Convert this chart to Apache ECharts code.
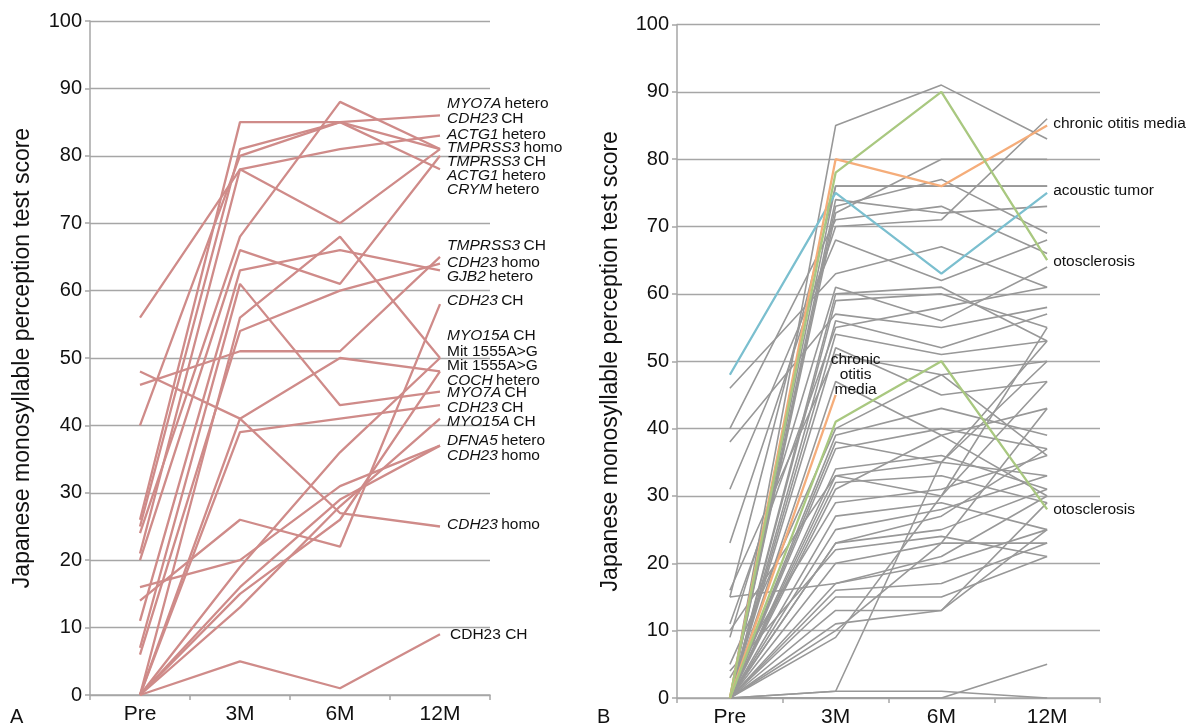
<!DOCTYPE html>
<html><head><meta charset="utf-8">
<script src="https://cdn.jsdelivr.net/npm/echarts@6/dist/echarts.min.js"></script>
<style>html,body{margin:0;padding:0;background:#fff}#c{width:1200px;height:728px}</style>
</head><body><div id="c"></div>
<script>
// ---------- categories ----------
const timepoints = ['Pre', '3M', '6M', '12M'];
const yTitle = 'Japanese monosyllable perception test score';

// ---------- Panel A (genetic causes), one entry per patient ----------
const aPre = [26, 25, 40, 56, 21, 24, 20, 11, 6, 46, 14, 0, 0, 0, 0, 7, 0, 0, 16, 0, 48, 0];
const a3M  = [85, 81, 80, 78, 78, 68, 66, 63, 54, 51, 26, 56, 19, 41, 15, 61, 39, 13, 20, 16, 41, 5];
const a6M  = [85, 85, 85, 81, 70, 88, 61, 66, 60, 51, 22, 68, 36, 50, 26, 43, 41, 28, 31, 29, 27, 1];
const a12M = [86, 81, 78, 83, 81, 81, 80, 63, 64, 65, 58, 50, 50, 48, 48, 45, 43, 41, 37, 37, 25, 9];

// labels at 12M (italic gene part + normal part) and their anchor score
const aLabelGene = ['MYO7A', 'CDH23', 'ACTG1', 'TMPRSS3', 'TMPRSS3', 'ACTG1', 'CRYM', 'TMPRSS3', 'CDH23', 'GJB2', 'CDH23', 'MYO15A', '', '', 'COCH', 'MYO7A', 'CDH23', 'MYO15A', 'DFNA5', 'CDH23', 'CDH23', ''];
const aLabelRest = ['hetero', 'CH', 'hetero', 'homo', 'CH', 'hetero', 'hetero', 'CH', 'homo', 'hetero', 'CH', 'CH', 'Mit 1555A>G', 'Mit 1555A>G', 'hetero', 'CH', 'CH', 'CH', 'hetero', 'homo', 'homo', 'CDH23 CH'];
const aLabelAt   = [87.7, 85.5, 83.2, 81.2, 79.1, 77.0, 74.9, 66.6, 64.2, 62.0, 58.5, 53.3, 51.0, 48.8, 46.7, 44.8, 42.6, 40.5, 37.7, 35.5, 25.2, 8.9];

// ---------- Panel B (other causes), grey patients ----------
const bPre = [0, 15, 0, 0, 0, 0, 40, 23, 31, 46, 9, 0, 0, 38, 0, 11, 0, 0, 16, 0, 5, 0, 0, 0, 0, 10, 0, 0, 0, 3, 0, 0, 0, 0, 4, 0, 0, 15, 0, 0, 0, 0, 0, 0, 0, 0, 0];
const b3M  = [85, 76, 76, 74, 73, 72, 71, 70, 68, 63, 61, 60, 59, 57, 56, 55, 54, 52, 51, 47, 40, 39, 38, 37, 34, 33, 33, 32, 31, 29, 27, 25, 23, 23, 22, 20, 17, 17, 16, 15, 13, 11, 10, 9, 1, 1, 0];
const b6M  = [91, 76, 76, 72, 77, 80, 73, 71, 62, 67, 56, 61, 60, 55, 52, 58, 51, 45, 48, 39, 48, 43, 35, 40, 36, 35, 30, 33, 39, 31, 29, 28, 27, 25, 24, 23, 21, 20, 17, 15, 13, 13, 23, 30, 1, 35, 0];
const b12M = [83, 76, 76, 73, 69, 80, 66, 86, 68, 61, 64, 53, 55, 58, 57, 61, 53, 47, 50, 43, 36, 39, 53, 37, 31, 33, 47, 29, 30, 36, 25, 33, 37, 31, 21, 23, 30, 25, 23, 21, 29, 25, 43, 55, 0, 50, 5];

// highlighted patients (blue, orange, green, orange, green)
const cPre  = [48, 0, 0, 0, 0];
const c3M   = [75, 80, 78, 45, 41];
const c6M   = [63, 76, 90, null, 50];
const c12M  = [75, 85, 65, null, 28];
const cColor = ['#7bbfcf', '#f5ad7a', '#a9c880', '#f5ad7a', '#a9c880'];

const bLabelText = ['chronic otitis media', 'acoustic tumor', 'otosclerosis', 'otosclerosis'];
const bLabelAt   = [85.3, 75.3, 64.8, 27.9];
const bInnerText = 'chronic\notitis\nmedia';
const bInnerAt   = 48;

// ---------- build ----------
const FONT = 'Liberation Sans, Arial, sans-serif';
const GRID = '#a6a6a6';
const TXT = '#111111';

function xAxis(gi) {
  return {
    type: 'category', gridIndex: gi, data: timepoints,
    axisLine: { lineStyle: { color: GRID, width: 1.5 } },
    axisTick: { show: true, length: 5, lineStyle: { color: GRID, width: 1.5 } },
    axisLabel: { color: TXT, fontSize: 21, fontFamily: FONT, margin: 9 },
    splitLine: { show: false }
  };
}
function yAxis(gi, gap) {
  return {
    type: 'value', gridIndex: gi, min: 0, max: 100, interval: 10,
    name: yTitle, nameLocation: 'middle', nameRotate: 90, nameGap: gap,
    nameTextStyle: { color: TXT, fontSize: 23, fontFamily: FONT },
    axisLine: { show: true, lineStyle: { color: GRID, width: 1.5 } },
    axisTick: { show: true, length: 5, lineStyle: { color: GRID, width: 1.5 } },
    axisLabel: { color: TXT, fontSize: 20, fontFamily: FONT, margin: 8 },
    splitLine: { show: true, lineStyle: { color: GRID, width: 1.3 } }
  };
}

const series = [];
aPre.forEach((v, i) => {
  series.push({
    type: 'line', xAxisIndex: 0, yAxisIndex: 0, symbol: 'none', silent: true,
    data: [aPre[i], a3M[i], a6M[i], a12M[i]],
    lineStyle: { color: '#cf8b89', width: 2.3 }
  });
});
series.push({
  type: 'scatter', xAxisIndex: 0, yAxisIndex: 0, symbolSize: 0, silent: true, z: 6,
  itemStyle: { opacity: 1 },
  data: aLabelAt.map((v, i) => ({
    value: [3, v],
    label: {
      show: true, position: 'right', distance: i === aLabelAt.length - 1 ? 10 : 7,
      formatter: (aLabelGene[i] ? '{i|' + aLabelGene[i] + '} ' : '') + '{n|' + aLabelRest[i] + '}',
      rich: {
        i: { fontStyle: 'italic', fontSize: 15.5, fontFamily: FONT, color: TXT },
        n: { fontSize: 15.5, fontFamily: FONT, color: TXT }
      }
    }
  }))
});

bPre.forEach((v, i) => {
  series.push({
    type: 'line', xAxisIndex: 1, yAxisIndex: 1, symbol: 'none', silent: true,
    data: [bPre[i], b3M[i], b6M[i], b12M[i]],
    lineStyle: { color: '#989898', width: 1.6 }
  });
});
cPre.forEach((v, i) => {
  series.push({
    type: 'line', xAxisIndex: 1, yAxisIndex: 1, symbol: 'none', silent: true, z: 5,
    data: [cPre[i], c3M[i], c6M[i], c12M[i]],
    lineStyle: { color: cColor[i], width: 2.3 }
  });
});
series.push({
  type: 'scatter', xAxisIndex: 1, yAxisIndex: 1, symbolSize: 0, silent: true, z: 6,
  itemStyle: { opacity: 1 },
  data: bLabelAt.map((v, i) => ({ value: [3, v], label: { show: true, position: 'right', distance: 6, formatter: bLabelText[i] } })),
  label: { color: TXT, fontSize: 15.5, fontFamily: FONT, opacity: 1 }
});
series.push({
  type: 'scatter', xAxisIndex: 1, yAxisIndex: 1, symbolSize: 0, silent: true, z: 6,
  itemStyle: { opacity: 1 },
  data: [{ value: [1, bInnerAt] }],
  label: { show: true, position: 'inside', offset: [20, 0], formatter: bInnerText, align: 'center', lineHeight: 15, color: TXT, fontSize: 15.5, fontFamily: FONT, opacity: 1, textBorderWidth: 0 }
});

const chart = echarts.init(document.getElementById('c'), null, { renderer: 'canvas' });
chart.setOption({
  animation: false,
  backgroundColor: '#ffffff',
  grid: [
    { left: 90, top: 21, width: 400, height: 674 },
    { left: 677, top: 24.5, width: 423, height: 675 }
  ],
  xAxis: [xAxis(0), xAxis(1)],
  yAxis: [yAxis(0, 56), yAxis(1, 55)],
  graphic: [
    { type: 'text', left: 10, top: 707, style: { text: 'A', fontSize: 20, fontFamily: FONT, fill: TXT } },
    { type: 'text', left: 597, top: 707, style: { text: 'B', fontSize: 20, fontFamily: FONT, fill: TXT } }
  ],
  series: series
});
</script></body></html>
